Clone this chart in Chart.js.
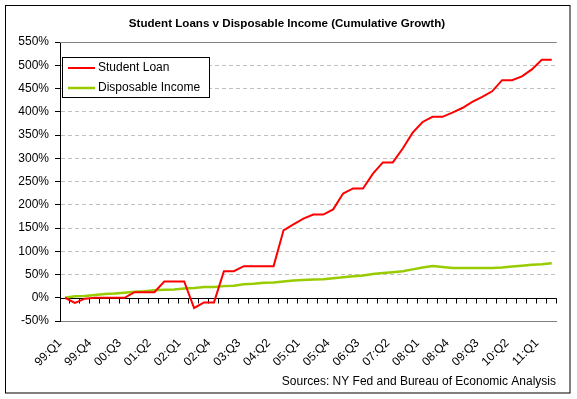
<!DOCTYPE html>
<html>
<head>
<meta charset="utf-8">
<script src="https://cdn.jsdelivr.net/npm/chart.js@4/dist/chart.umd.min.js"></script>
<style>
  body { margin: 0; background: #fff; }
  canvas { display: block; }
</style>
</head>
<body>
<canvas id="chart" width="577" height="399"></canvas>
<script>
// ==============================
// Datos
// ==============================
const chartTitle = 'Student Loans v Disposable Income (Cumulative Growth)';
const sourceNote = 'Sources: NY Fed and Bureau of Economic Analysis';

const quarters = [
  '99:Q1', '99:Q2', '99:Q3', '99:Q4',
  '00:Q1', '00:Q2', '00:Q3', '00:Q4',
  '01:Q1', '01:Q2', '01:Q3', '01:Q4',
  '02:Q1', '02:Q2', '02:Q3', '02:Q4',
  '03:Q1', '03:Q2', '03:Q3', '03:Q4',
  '04:Q1', '04:Q2', '04:Q3', '04:Q4',
  '05:Q1', '05:Q2', '05:Q3', '05:Q4',
  '06:Q1', '06:Q2', '06:Q3', '06:Q4',
  '07:Q1', '07:Q2', '07:Q3', '07:Q4',
  '08:Q1', '08:Q2', '08:Q3', '08:Q4',
  '09:Q1', '09:Q2', '09:Q3', '09:Q4',
  '10:Q1', '10:Q2', '10:Q3', '10:Q4',
  '11:Q1', '11:Q2'
];

// crecimiento acumulado en %
const studentLoan = [
  0, -11, -2, 0, 0, 0, 0, 12, 12, 12,
  35, 35, 35, -22, -10, -10, 57, 57, 68, 68,
  68, 68, 145, 158, 170, 179, 179, 190, 224, 235,
  235, 267, 291, 291, 321, 355, 378, 389, 389, 398,
  408, 421, 432, 444, 468, 468, 476, 491, 512, 512
];
const disposableIncome = [
  0, 3, 4, 6, 8, 9, 11, 13, 14, 16,
  17, 18, 20, 21, 23, 23, 25, 26, 29, 30,
  32, 33, 35, 37, 38, 39, 40, 42, 44, 46,
  48, 51, 53, 55, 57, 61, 65, 68, 66, 64,
  64, 64, 64, 64, 65, 67, 69, 71, 72, 74
];

const yMin = -50;
const yMax = 550;
const yStep = 50;
const labelEvery = 3;

const FONT = '"Liberation Sans", Arial, sans-serif';

// ==============================
// Plugin: marco, título, eje 0%, leyenda, fuente
// ==============================
const excelLook = {
  id: 'excelLook',
  beforeDatasetsDraw(chart) {
    const { ctx, chartArea: a, scales: { x, y } } = chart;
    ctx.save();
    // borde superior gris del área de trazado
    ctx.strokeStyle = '#808080';
    ctx.lineWidth = 1;
    ctx.beginPath();
    ctx.moveTo(a.left, Math.round(a.top) + 0.5);
    ctx.lineTo(a.right, Math.round(a.top) + 0.5);
    ctx.stroke();

    // eje en 0% con marcas entre categorías
    const y0 = Math.round(y.getPixelForValue(0)) + 0.5;
    ctx.strokeStyle = '#000';
    ctx.beginPath();
    ctx.moveTo(a.left, y0);
    ctx.lineTo(a.right, y0);
    const n = chart.data.labels.length;
    const w = (x.right - x.left) / n;
    for (let k = 1; k <= n; k++) {
      const px = Math.round(x.left + k * w) - 0.5;
      ctx.moveTo(px, y0);
      ctx.lineTo(px, y0 + 5);
    }
    ctx.stroke();
    ctx.restore();
  },
  afterDraw(chart) {
    const { ctx } = chart;
    ctx.save();
    // marco exterior
    ctx.strokeStyle = '#000';
    ctx.lineWidth = 1;
    ctx.strokeRect(5.5, 5.5, 564.5, 387.5);

    // título
    ctx.fillStyle = '#000';
    ctx.font = 'bold 11.6px ' + FONT;
    ctx.textAlign = 'center';
    ctx.textBaseline = 'middle';
    ctx.fillText(chartTitle, 287, 24);

    // leyenda
    ctx.fillStyle = '#fff';
    ctx.fillRect(62.5, 57.5, 147, 40);
    ctx.strokeRect(62.5, 57.5, 147, 40);
    ctx.font = '12px ' + FONT;
    ctx.textAlign = 'left';
    chart.data.datasets.forEach((ds, i) => {
      const ly = 68 + i * 20;
      ctx.strokeStyle = ds.borderColor;
      ctx.lineWidth = ds.borderWidth;
      ctx.beginPath();
      ctx.moveTo(68, ly);
      ctx.lineTo(95, ly);
      ctx.stroke();
      ctx.fillStyle = '#000';
      ctx.fillText(ds.label, 98, ly);
    });

    // nota de fuentes
    ctx.textAlign = 'right';
    ctx.fillText(sourceNote, 556, 382);
    ctx.restore();
  }
};

// ==============================
// Gráfica
// ==============================
new Chart(document.getElementById('chart').getContext('2d'), {
  type: 'line',
  data: {
    labels: quarters,
    datasets: [
      {
        label: 'Student Loan',
        data: studentLoan,
        borderColor: '#ff0000',
        borderWidth: 2,
        pointRadius: 0,
        tension: 0,
        fill: false
      },
      {
        label: 'Disposable Income',
        data: disposableIncome,
        borderColor: '#99cc00',
        borderWidth: 2.5,
        pointRadius: 0,
        tension: 0,
        fill: false
      }
    ]
  },
  options: {
    responsive: false,
    animation: false,
    layout: { padding: { left: 5, right: 7, top: 42, bottom: 5 } },
    plugins: {
      legend: { display: false },
      title: { display: false },
      tooltip: { enabled: false }
    },
    scales: {
      x: {
        offset: true,
        grid: { display: false, drawTicks: false },
        border: { display: true, color: '#808080', width: 1 },
        ticks: {
          autoSkip: false,
          minRotation: 45,
          maxRotation: 45,
          padding: 15,
          labelOffset: -5,
          color: '#000',
          font: { family: FONT, size: 12 },
          callback: function (val, i) {
            return i % labelEvery === 0 ? this.getLabelForValue(val) : '';
          }
        },
        afterFit: s => { s.height = 73; }
      },
      y: {
        min: yMin,
        max: yMax,
        ticks: {
          stepSize: yStep,
          padding: 6,
          color: '#000',
          font: { family: FONT, size: 12 },
          callback: v => v + '%'
        },
        grid: {
          tickLength: 5,
          tickColor: '#000',
          color: c => (c.tick && (c.tick.value === 0 || c.tick.value === yMin || c.tick.value === yMax)) ? 'rgba(0,0,0,0)' : '#c0c0c0'
        },
        border: { display: true, color: '#000', width: 1, dash: [4, 3] },
        afterFit: s => { s.width = 55; }
      }
    }
  },
  plugins: [excelLook]
});
</script>
</body>
</html>
